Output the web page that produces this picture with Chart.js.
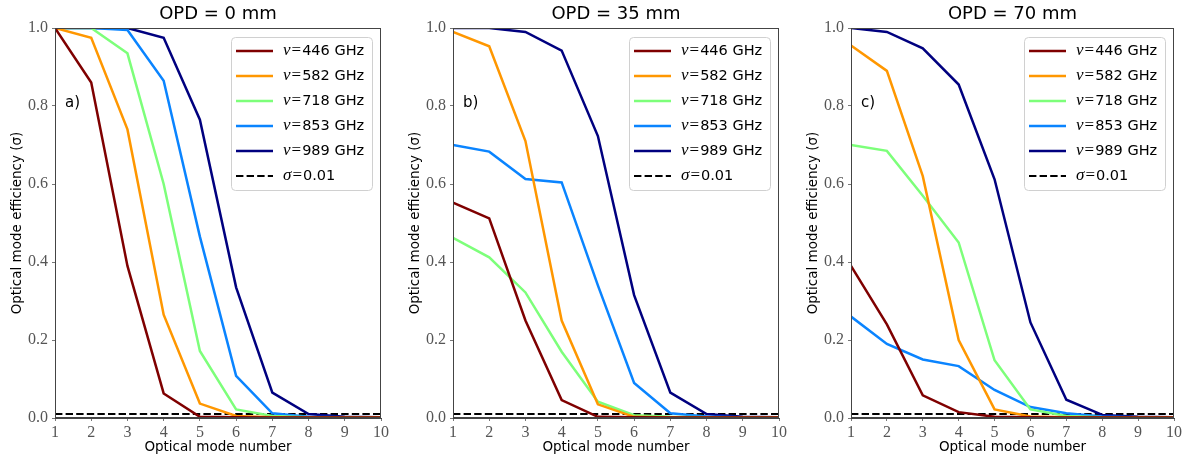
<!DOCTYPE html>
<html><head><meta charset="utf-8">
<script src="https://cdn.jsdelivr.net/npm/chart.js@4.4.1/dist/chart.umd.min.js"></script>
<style>
body{margin:0;background:#fff;width:1199px;height:457px;overflow:hidden;position:relative}
canvas{position:absolute;top:0}
</style>
</head><body>
<canvas id="ca" width="398" height="457" style="left:0px"></canvas>
<canvas id="cb" width="398" height="457" style="left:398px"></canvas>
<canvas id="cc" width="403" height="457" style="left:796px"></canvas>
<script>
// ---- data ----
const modes = [1,2,3,4,5,6,7,8,9,10];
const freqLabels = ['ν=446 GHz','ν=582 GHz','ν=718 GHz','ν=853 GHz','ν=989 GHz'];
const thresholdLabel = 'σ=0.01';
const threshold = 0.01;
const panelTitles = ['OPD = 0 mm','OPD = 35 mm','OPD = 70 mm'];
const panelLetters = ['a)','b)','c)'];
const yTicks = [0,0.2,0.4,0.6,0.8,1.0];

// OPD = 0 mm
const opd0_446 = [1.0,0.86,0.39,0.063,0.003,0.002,0.001,0.001,0.001,0.001];
const opd0_582 = [1.0,0.975,0.74,0.265,0.037,0.005,0.002,0.001,0.001,0.001];
const opd0_718 = [1.0,1.0,0.935,0.60,0.172,0.022,0.005,0.002,0.001,0.001];
const opd0_853 = [1.0,1.0,0.995,0.865,0.465,0.108,0.012,0.003,0.002,0.001];
const opd0_989 = [1.0,1.0,1.0,0.975,0.765,0.335,0.065,0.010,0.003,0.002];
// OPD = 35 mm
const opd35_446 = [0.552,0.512,0.25,0.046,0.003,0.002,0.001,0.001,0.001,0.001];
const opd35_582 = [0.99,0.953,0.71,0.25,0.035,0.003,0.001,0.001,0.001,0.001];
const opd35_718 = [0.462,0.412,0.322,0.17,0.042,0.007,0.003,0.002,0.001,0.001];
const opd35_853 = [0.70,0.683,0.613,0.604,0.34,0.09,0.012,0.004,0.002,0.001];
const opd35_989 = [1.0,1.0,0.99,0.942,0.723,0.315,0.065,0.010,0.003,0.002];
// OPD = 70 mm
const opd70_446 = [0.39,0.24,0.058,0.015,0.003,0.002,0.001,0.001,0.001,0.001];
const opd70_582 = [0.955,0.89,0.62,0.20,0.022,0.004,0.002,0.001,0.001,0.001];
const opd70_718 = [0.70,0.685,0.57,0.45,0.148,0.022,0.005,0.002,0.001,0.001];
const opd70_853 = [0.26,0.19,0.15,0.133,0.072,0.028,0.012,0.004,0.002,0.001];
const opd70_989 = [1.0,0.99,0.948,0.855,0.612,0.245,0.047,0.008,0.003,0.002];

const colors = ['#7f0000','#ff9700','#7dff7a','#0a84ff','#00007f'];

const SANS = '"DejaVu Sans", sans-serif';
const SERIF = '"Liberation Serif", serif';
const FRAME = '#444';

function pts(vals){ return modes.map((m,i)=>({x:m,y:vals[i]})); }

function drawLabel(ctx, text, x, y){
  const eq = text.indexOf('=');
  const sym = text.slice(0,eq), rest = text.slice(eq+1);
  ctx.textBaseline='middle'; ctx.textAlign='left'; ctx.fillStyle='#000';
  ctx.font = 'italic 17px ' + SERIF; ctx.fillText(sym, x, y); x += ctx.measureText(sym).width + 1;
  ctx.font = '17px ' + SERIF; ctx.fillText('=', x, y); x += ctx.measureText('=').width + 1;
  ctx.font = '14.5px ' + SANS; ctx.fillText(rest, x, y);
}

function decor(title, letter){
  return {
    id:'decor',
    afterDraw(chart){
      const {ctx, chartArea:a} = chart;
      ctx.save();
      // frame
      ctx.strokeStyle=FRAME; ctx.lineWidth=1;
      ctx.strokeRect(Math.round(a.left)+0.5, Math.round(a.top)+0.5, Math.round(a.right-a.left)-1, Math.round(a.bottom-a.top)-1);
      // title
      ctx.fillStyle='#000'; ctx.font='18px '+SANS; ctx.textAlign='center'; ctx.textBaseline='middle';
      ctx.fillText(title, (a.left+a.right)/2, 14);
      // panel letter
      ctx.font='15px '+SANS; ctx.textAlign='left';
      ctx.fillText(letter, a.left+10, a.top+75);
      // legend
      const bw=141, bh=153, bx=a.right-9-bw, by=a.top+9;
      ctx.beginPath();
      if (ctx.roundRect) ctx.roundRect(bx+0.5,by+0.5,bw,bh,4); else ctx.rect(bx+0.5,by+0.5,bw,bh);
      ctx.fillStyle='rgba(255,255,255,0.85)'; ctx.fill();
      ctx.strokeStyle='#d0d0d0'; ctx.lineWidth=1; ctx.stroke();
      chart.data.datasets.forEach((ds,i)=>{
        const y = by + 14 + 25*i;
        ctx.save();
        ctx.strokeStyle=ds.borderColor; ctx.lineWidth=ds.borderWidth;
        ctx.setLineDash(ds.borderDash||[]);
        ctx.beginPath(); ctx.moveTo(bx+5,y); ctx.lineTo(bx+42,y); ctx.stroke();
        ctx.restore();
        drawLabel(ctx, ds.label, bx+52, y);
      });
      ctx.restore();
    }
  };
}

function makeChart(id, series, idx, padRight){
  const datasets = series.map((vals,i)=>({
    label:freqLabels[i], data:pts(vals), borderColor:colors[i], backgroundColor:colors[i],
    borderWidth:2.5, pointRadius:0, tension:0, fill:false
  }));
  datasets.push({label:thresholdLabel, data:pts(modes.map(()=>threshold)), borderColor:'#000', backgroundColor:'#000',
    borderWidth:2, borderDash:[7.4,3.2], pointRadius:0, fill:false});
  new Chart(document.getElementById(id), {
    type:'line',
    data:{datasets},
    options:{
      responsive:false, animation:false, devicePixelRatio:1,
      layout:{padding:{top:28,right:padRight,left:0,bottom:0}},
      plugins:{legend:{display:false}, title:{display:false}, tooltip:{enabled:false}},
      scales:{
        x:{type:'linear', min:1, max:10,
          afterFit(s){ s.height=39; },
          grid:{display:true, drawOnChartArea:false, drawTicks:true, tickLength:3, color:'#777'},
          border:{display:true,color:FRAME},
          ticks:{stepSize:1, color:'#555', padding:2, font:{family:SERIF, size:16}, maxRotation:0,
                 callback:v=>String(v)},
          title:{display:true, text:'Optical mode number', color:'#000', font:{family:SANS,size:13.5}, padding:{top:0,bottom:1.6}}
        },
        y:{type:'linear', min:0, max:1,
          afterFit(s){ s.width=55; },
          afterBuildTicks(s){ s.ticks = yTicks.map(v=>({value:v})); },
          grid:{display:true, drawOnChartArea:false, drawTicks:true, tickLength:3, color:'#777'},
          border:{display:true,color:FRAME},
          ticks:{color:'#555', padding:4, font:{family:SERIF, size:16}, callback:v=>v.toFixed(1)},
          title:{display:true, text:'Optical mode efficiency (σ)', color:'#000', font:{family:SANS,size:13.5}, padding:{top:9,bottom:0}}
        }
      }
    },
    plugins:[decor(panelTitles[idx], panelLetters[idx])]
  });
}

makeChart('ca', [opd0_446,opd0_582,opd0_718,opd0_853,opd0_989], 0, 17);
makeChart('cb', [opd35_446,opd35_582,opd35_718,opd35_853,opd35_989], 1, 17);
makeChart('cc', [opd70_446,opd70_582,opd70_718,opd70_853,opd70_989], 2, 25);
</script>
</body></html>
